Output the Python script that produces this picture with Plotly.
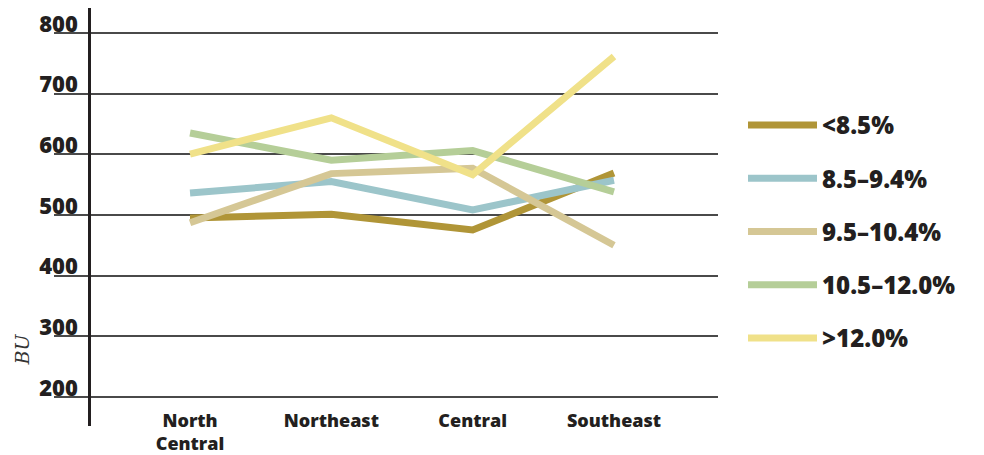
import plotly.graph_objects as go

regions = ["North Central", "Northeast", "Central", "Southeast"]
region_labels = ["North<br>Central", "Northeast", "Central", "Southeast"]
series_names = ["<8.5%", "8.5–9.4%", "9.5–10.4%", "10.5–12.0%", ">12.0%"]
series_colors = ["#B09537", "#9CC5CA", "#D5C795", "#B5CE98", "#F0E189"]
lt_85 = [495, 501, 475, 569]
p85_94 = [536, 555, 508, 557]
p95_104 = [487, 568, 577, 450]
p105_120 = [635, 590, 606, 538]
gt_120 = [600, 660, 566, 761]
series_values = [lt_85, p85_94, p95_104, p105_120, gt_120]
y_ticks = [200, 300, 400, 500, 600, 700, 800]
y_title = "BU"

W, H = 984, 455
ML, MR, MT, MB = 54, 266, 8, 29
pw = W - ML - MR
ph = H - MT - MB
TXT = "#231F20"
FONT = "Open Sans"

fig = go.Figure()
for i, (name, color, vals) in enumerate(zip(series_names, series_colors, series_values)):
    fig.add_trace(go.Scatter(
        x=list(range(len(regions))), y=vals, name=name, mode="lines",
        line=dict(color=color, width=7), legendgroup=f"g{i}",
    ))

ymin, ymax = 152, 841
axis_px = 89
yaxis_pos = (axis_px - ML) / pw
xaxis_pos = (y_ticks[0] - ymin) / (ymax - ymin)

fig.update_layout(
    width=W, height=H,
    margin=dict(l=ML, r=MR, t=MT, b=MB, autoexpand=False),
    paper_bgcolor="white", plot_bgcolor="white",
    showlegend=True,
    legend=dict(
        x=(743 - ML) / pw, xanchor="left",
        y=(H - MB - 103) / ph, yanchor="top",
        font=dict(family=FONT, size=24, color=TXT, weight=800),
        tracegroupgap=19, itemwidth=69,
        bgcolor="rgba(0,0,0,0)",
    ),
    xaxis=dict(
        range=[(ML - 190) / 141.3, 3 + (ML + pw - 614) / 141.3],
        tickvals=list(range(len(regions))), ticktext=region_labels,
        showgrid=False, zeroline=False, showline=False, ticks="",
        anchor="free", position=xaxis_pos, automargin=False,
        tickfont=dict(family=FONT, size=18, color=TXT, weight=800),
        ticklabelstandoff=11,
    ),
    yaxis=dict(
        range=[ymin, ymax], tickvals=y_ticks,
        showgrid=True, gridcolor="#4A4A4A", gridwidth=1.5,
        zeroline=False, showline=True, linecolor=TXT, linewidth=2.5,
        ticks="", anchor="free", position=yaxis_pos, automargin=False,
        tickfont=dict(family=FONT, size=22, color=TXT, weight=800),
        ticklabelshift=-9, ticklabelstandoff=6,
    ),
)

fig.add_annotation(
    text=f"<i>{y_title}</i>", xref="paper", yref="y",
    x=(22 - ML) / pw, y=278, xanchor="center", yanchor="middle",
    showarrow=False, textangle=-90,
    font=dict(family="DejaVu Serif", size=19, color="#333333"),
)

fig.write_html("out.html")
